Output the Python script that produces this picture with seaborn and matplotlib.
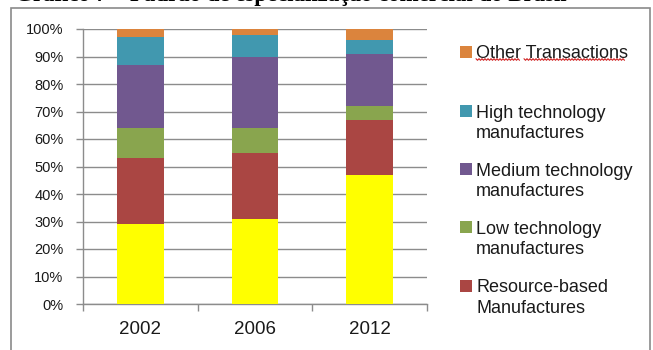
import numpy as np
import pandas as pd
import matplotlib
matplotlib.use("Agg")
import matplotlib.pyplot as plt
from matplotlib.patches import Rectangle
from matplotlib.lines import Line2D
import seaborn as sns

# Export structure of Brazil by technology content (% of total)
years = ["2002", "2006", "2012"]
series_names = [
    "Primary products",
    "Resource-based\nManufactures",
    "Low technology\nmanufactures",
    "Medium technology\nmanufactures",
    "High technology\nmanufactures",
    "Other Transactions",
]
primary = [29, 31, 47]
resource_based = [24, 24, 20]
low_tech = [11, 9, 5]
medium_tech = [23, 26, 19]
high_tech = [10, 8, 5]
other = [3, 2, 4]
series_colors = ["#FFFF00", "#AA4643", "#89A54E", "#71588F", "#4198AF", "#DB843D"]
y_ticks = [0, 10, 20, 30, 40, 50, 60, 70, 80, 90, 100]
title = "Gráfico 7 – Padrão de especialização comercial do Brasil"

values = [primary, resource_based, low_tech, medium_tech, high_tech, other]

# Long table with cumulative tops for the stacked bars
rows = []
for name, vals in zip(series_names, values):
    for yr, v in zip(years, vals):
        rows.append({"year": yr, "series": name, "value": v})
df = pd.DataFrame(rows)
df["series"] = pd.Categorical(df["series"], categories=series_names, ordered=True)
df = df.sort_values(["year", "series"])
df["top"] = df.groupby("year")["value"].cumsum()

sns.set_theme(style="white")
plt.rcParams["font.family"] = ["Liberation Sans", "DejaVu Sans"]

W, H = 653, 350
fig = plt.figure(figsize=(W / 100, H / 100), dpi=100)
fig.patch.set_facecolor("white")

def fx(px):
    return px / W

def fy(py):
    return 1 - py / H

# outer chart frame
fig.patches.append(Rectangle((fx(11), fy(372)), fx(650) - fx(11), fy(7.5) - fy(372),
                             transform=fig.transFigure, fill=False,
                             edgecolor="#8a8a8a", linewidth=1.2, zorder=0))

# heading above the frame
fig.text(fx(15), fy(1.0), title, fontsize=16.5, fontweight="bold",
         family=["Liberation Serif", "DejaVu Serif"], color="black",
         ha="left", va="baseline")

left, right, top, bottom = 83, 427, 29, 304
ax = fig.add_axes([fx(left), fy(bottom), fx(right) - fx(left), fy(top) - fy(bottom)])
ax.set_facecolor("white")

# draw the stacks from the tallest cumulative segment down
for name, color in reversed(list(zip(series_names, series_colors))):
    sub = df[df["series"] == name]
    sns.barplot(data=sub, x="year", y="top", order=years, color=color,
                saturation=1, width=0.405, edgecolor="none", linewidth=0,
                ax=ax, zorder=3)

ax.set_xlim(-0.5, len(years) - 0.5)
ax.set_ylim(0, 100)
ax.set_yticks(y_ticks)
ax.set_yticklabels([f"{t}%" for t in y_ticks])
ax.set_xlabel("")
ax.set_ylabel("")

grid_c = "#8c8c8c"
ax.yaxis.grid(True, color=grid_c, linewidth=1.0, zorder=1)
ax.xaxis.grid(False)
ax.set_axisbelow(True)
for s in ["top", "right"]:
    ax.spines[s].set_visible(False)
for s in ["left", "bottom"]:
    ax.spines[s].set_color(grid_c)
    ax.spines[s].set_linewidth(1.0)

ax.tick_params(axis="y", which="major", direction="out", length=5, width=1,
               color=grid_c, pad=9, labelsize=10.5, labelcolor="#1a1a1a", left=True)
ax.tick_params(axis="x", which="major", length=0, pad=12, labelsize=13.5,
               labelcolor="#1a1a1a", bottom=True)
ax.set_xticks(np.arange(-0.5, len(years), 1.0), minor=True)
ax.tick_params(axis="x", which="minor", direction="out", length=5, width=1,
               color=grid_c, bottom=True)

# legend, top entry first, one slot per series
entry_y = [52, 111, 169, 227, 286]
legend_items = list(zip(series_names, series_colors))[::-1][:len(entry_y)]
sq = 12
fs = 13.0
em = fs * 100 / 72
for (name, color), yc in zip(legend_items, entry_y):
    fig.patches.append(Rectangle((fx(460), fy(yc + sq / 2)), sq / W, sq / H,
                                 transform=fig.transFigure, facecolor=color,
                                 edgecolor="none"))
    fig.text(fx(476), fy(yc - 0.36 * em), name, fontsize=fs, color="#1a1a1a",
             ha="left", va="top", linespacing=1.28)

# spell-check underline beneath the first legend label
for x0, x1 in [(476, 520), (524, 625)]:
    xs = np.arange(x0, x1 + 0.1, 1.5)
    ys = 59.5 + np.where(np.arange(len(xs)) % 2 == 0, -0.8, 0.8)
    fig.lines.append(Line2D(fx(xs), fy(ys), transform=fig.transFigure,
                            color="#d02020", linewidth=0.8))

fig.savefig("out.png", dpi=100, facecolor="white")
